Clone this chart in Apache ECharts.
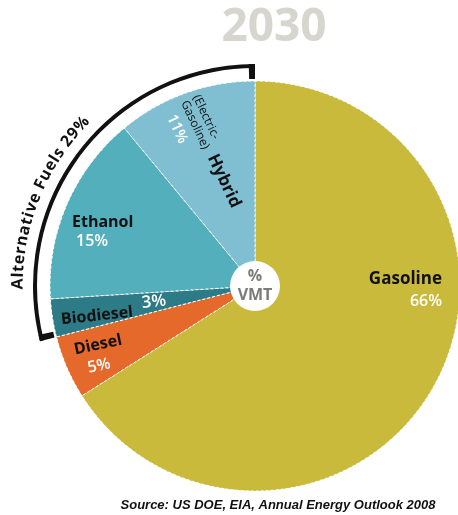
<!DOCTYPE html>
<html><head><meta charset="utf-8">
<script src="https://cdn.jsdelivr.net/npm/echarts@6/dist/echarts.min.js"></script>
<style>html,body{margin:0;padding:0;background:#fff}#c{width:458px;height:515px}</style>
</head><body><div id="c"></div>
<script>
// ---- data ----
const categories = ['Gasoline', 'Diesel', 'Biodiesel', 'Ethanol', 'Hybrid'];
const shares = [66, 5, 3, 15, 11];
const hybridNote = ['(Electric-', 'Gasoline)'];
const groupLabel = 'Alternative Fuels 29%';
const centerLabel = ['%', 'VMT'];
const titleText = '2030';
const sourceText = 'Source: US DOE, EIA, Annual Energy Outlook 2008';
const altStart = 2; // first alternative-fuel category

// ---- style ----
const colors = ['#C9BA3B', '#E4692A', '#2E7B88', '#53AFBB', '#80BED2'];
const CX = 255, CY = 286, R = 205;
const FONT = '"Open Sans", "Noto Sans", sans-serif';
const deg = Math.PI / 180;

const chart = echarts.init(document.getElementById('c'), null, {renderer: 'canvas'});
const conv = shares.slice(0, altStart).reduce((a, b) => a + b, 0);
const alt = shares.slice(altStart).reduce((a, b) => a + b, 0);
const tick = 0.45;
const none = {color: 'rgba(0,0,0,0)'};
const ink = {color: '#111'};
const pct = i => shares[i] + '%';

function txt(x, y, text, size, weight, fill, rot, align, extra) {
  return Object.assign({
    type: 'text', x: x, y: y, z: 100, zlevel: 0, rotation: (rot || 0) * deg, silent: true,
    style: {text: text, fontSize: size, fontWeight: weight, fontFamily: FONT, fill: fill,
      align: align || 'center', verticalAlign: 'middle'}
  }, extra || {});
}

const graphics = [];
graphics.push(txt(274, 28, titleText, 46, 'bold', '#D6D6CF'));
graphics.push(txt(278, 505, sourceText, 13, 'bold', '#111', 0, 'center',
  {style: {text: sourceText, fontSize: 13, fontWeight: 'bold', fontStyle: 'italic',
    fontFamily: '"Liberation Sans Narrow", "Liberation Sans", sans-serif', fill: '#111',
    align: 'center', verticalAlign: 'middle'}}));

// slice labels
graphics.push(txt(442, 279, categories[0], 17, 'bold', '#111', 0, 'right'));
graphics.push(txt(442, 301, pct(0), 16, 600, '#fff', 0, 'right'));
graphics.push(txt(98, 345, categories[1], 16, 'bold', '#111', 12));
graphics.push(txt(99, 366, pct(1), 16, 600, '#fff', 12));
graphics.push(txt(97, 316, categories[2], 16, 'bold', '#111', 6));
graphics.push(txt(154, 302, pct(2), 17, 600, '#fff', 6));
graphics.push(txt(72, 222, categories[3], 16, 'bold', '#111', 0, 'left'));
graphics.push(txt(76, 241, pct(3), 16, 600, '#fff', 0, 'left'));
graphics.push(txt(224, 181, categories[4], 17, 'bold', '#111', -65));
graphics.push(txt(206, 117, hybridNote[0], 12, 'normal', '#111', -65));
graphics.push(txt(195, 125, hybridNote[1], 12, 'normal', '#111', -65));
graphics.push(txt(177, 129, pct(4), 15, 600, '#fff', -65));

// curved group label
(function () {
  const size = 16;
  const ctx = document.createElement('canvas').getContext('2d');
  ctx.font = 'bold ' + size + 'px ' + FONT;
  const chars = groupLabel.split('');
  const ws = chars.map(c => ctx.measureText(c).width);
  const spacing = 0.8;
  const total = ws.reduce((a, b) => a + b, 0) + spacing * (chars.length - 1);
  const r = 237, mid = 292 * deg;
  let s = -total / 2;
  chars.forEach((c, i) => {
    const th = mid + (s + ws[i] / 2) / r;
    s += ws[i] + spacing;
    graphics.push(txt(CX + r * Math.sin(th), CY - r * Math.cos(th), c, size, 'bold', '#111',
      -th / deg));
  });
})();

const base = {type: 'pie', center: [CX, CY], startAngle: 90, clockwise: true, silent: true,
  label: {show: false}, labelLine: {show: false}, emphasis: {disabled: true}};

chart.setOption({
  animation: false,
  backgroundColor: '#fff',
  series: [
    Object.assign({}, base, {
      name: 'VMT', radius: [0, R], z: 1,
      itemStyle: {borderColor: '#fff', borderWidth: 1, borderType: [3, 2]},
      data: categories.map((n, i) => ({name: n, value: shares[i], itemStyle: {color: colors[i]}}))
    }),
    Object.assign({}, base, {
      name: 'bracket', radius: [218, 222], z: 3,
      data: [{value: conv, itemStyle: none}, {value: alt, itemStyle: ink}]
    }),
    Object.assign({}, base, {
      name: 'ticks', radius: [207, 222], z: 3,
      data: [{value: conv, itemStyle: none}, {value: tick, itemStyle: ink},
        {value: alt - 2 * tick, itemStyle: none}, {value: tick, itemStyle: ink}]
    }),
    Object.assign({}, base, {
      name: 'center', radius: [0, 25], z: 4,
      data: [{value: 1, name: centerLabel.join(' '), itemStyle: {color: '#fff'}}],
      label: {show: true, position: 'center', formatter: centerLabel.join('\n'),
        fontFamily: FONT, fontWeight: 'bold', fontSize: 16, lineHeight: 19, color: '#7b7b78'}
    })
  ]
});
chart.setOption({graphic: {elements: graphics}});
</script></body></html>
